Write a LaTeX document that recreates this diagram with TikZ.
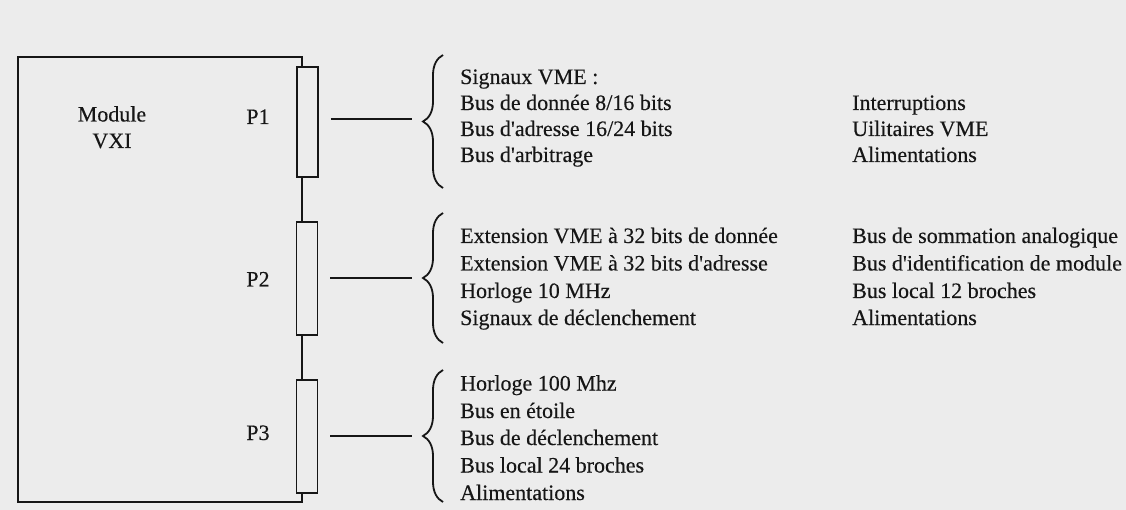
\documentclass[tikz,border=0pt]{standalone}
\usepackage{fontspec}
\setmainfont{Liberation Serif}
\newfontfamily\inkfont[FakeBold=0.3]{Liberation Serif}
\usetikzlibrary{decorations.pathreplacing}
\definecolor{ink}{RGB}{22,22,22}
\definecolor{paper}{RGB}{236,236,236}
\tikzset{
  txt/.style={inner sep=0pt, anchor=base west, text=ink, font=\inkfont\fontsize{22}{26}\selectfont},
  lbl/.style={inner sep=0pt, anchor=base, text=ink, font=\inkfont\fontsize{22}{26}\selectfont},
  connbox/.style={draw=ink, line width=1.8pt, minimum width=21pt, minimum height=#1, inner sep=0pt},
  wire/.style={draw=ink, line width=1.8pt},
  bracestyle/.style={draw=ink, line width=1.8pt, decorate, decoration={brace, amplitude=20pt}}
}
\begin{document}
\begin{tikzpicture}[x=1pt,y=-1pt]
\fill[paper] (0,0) rectangle (1126,510);
\useasboundingbox (0,0) rectangle (1126,510);

% connectors
\node[connbox=110pt] (P1box) at (307.5,122) {};
\node[connbox=113pt] (P2box) at (307,278.5) {};
\node[connbox=113pt] (P3box) at (307,436.5) {};

% module outline
\coordinate (tl) at (18,57);
\coordinate (bl) at (18,502);
\coordinate (br) at (302,502);
\coordinate (tr) at (302,57);
\draw[wire] (P1box.north -| tr) |- (tl) -- (bl) -- (br) -- (P3box.south -| br);
\draw[wire] (P1box.south -| tr) -- (P2box.north -| tr);
\draw[wire] (P2box.south -| tr) -- (P3box.north -| tr);

% labels
\node[lbl] (mod1) at (112,121.5) {Module};
\node[lbl] (mod2) at (112,148) {VXI};
\node[lbl] (P1) at (258,124) {P1};
\node[lbl] (P2) at (258,286.5) {P2};
\node[lbl] (P3) at (258,440) {P3};

% braces
\coordinate (b1top) at (443,55);
\coordinate (b1bot) at (443,188);
\coordinate (b2top) at (443,213);
\coordinate (b2bot) at (443,343);
\coordinate (b3top) at (443,370);
\coordinate (b3bot) at (443,502);
\draw[bracestyle] (b1bot) -- (b1top);
\draw[bracestyle] (b2bot) -- (b2top);
\draw[bracestyle] (b3bot) -- (b3top);
\coordinate (t1) at (412,119);
\coordinate (t2) at (412,278);
\coordinate (t3) at (412,436);

% wires from connectors to braces
\draw[wire] ([xshift=12pt]P1box.east |- t1) -- (t1);
\draw[wire] ([xshift=12pt]P2box.east |- t2) -- (t2);
\draw[wire] ([xshift=12pt]P3box.east |- t3) -- (t3);

% P1 lists
\node[txt] (a1) at (460,84) {Signaux VME :};
\node[txt] (a2) at (460,110) {Bus de donnée 8/16 bits};
\node[txt] (a3) at (460,136) {Bus d'adresse 16/24 bits};
\node[txt] (a4) at (460,162) {Bus d'arbitrage};
\node[txt] (ra2) at (852,110) {Interruptions};
\node[txt] (ra3) at (852,136) {Uilitaires VME};
\node[txt] (ra4) at (852,162) {Alimentations};

% P2 lists
\node[txt] (b1) at (460,243) {Extension VME à 32 bits de donnée};
\node[txt] (b2) at (460,270.5) {Extension VME à 32 bits d'adresse};
\node[txt] (b3) at (460,298) {Horloge 10 MHz};
\node[txt] (b4) at (460,325) {Signaux de déclenchement};
\node[txt] (rb1) at (852,243) {Bus de sommation analogique};
\node[txt] (rb2) at (852,270.5) {Bus d'identification de module};
\node[txt] (rb3) at (852,298) {Bus local 12 broches};
\node[txt] (rb4) at (852,325) {Alimentations};

% P3 list
\node[txt] (c1) at (460,390.5) {Horloge 100 Mhz};
\node[txt] (c2) at (460,418) {Bus en étoile};
\node[txt] (c3) at (460,445) {Bus de déclenchement};
\node[txt] (c4) at (460,472.5) {Bus local 24 broches};
\node[txt] (c5) at (460,500) {Alimentations};
\end{tikzpicture}
\end{document}
